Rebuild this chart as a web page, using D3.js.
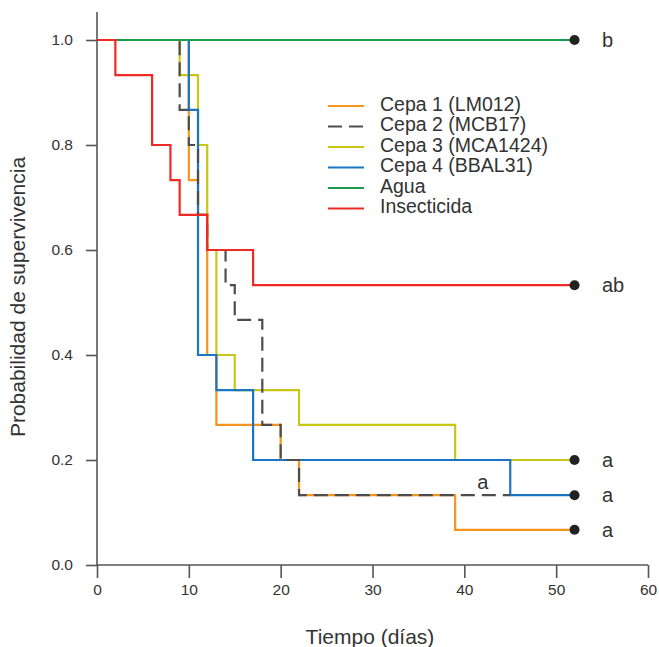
<!DOCTYPE html>
<html>
<head>
<meta charset="utf-8">
<script src="https://cdn.jsdelivr.net/npm/d3@7"></script>
<style>
  body { margin: 0; background: #fff; }
  text { font-family: "Liberation Sans", Arial, sans-serif; fill: #333; }
</style>
</head>
<body>
<div id="view"></div>
<script>
// Datos (tiempo en dias, probabilidad de supervivencia)
var series = ["Cepa 1 (LM012)", "Cepa 2 (MCB17)", "Cepa 3 (MCA1424)", "Cepa 4 (BBAL31)", "Agua", "Insecticida"];
var colores = ["#f7941d", "#4d4d4d", "#c9c617", "#1b75c4", "#1e9a4c", "#ee2a24"];

var cepa1Tiempos = [0, 10, 11, 12, 13, 20, 22, 39, 52];
var cepa1Valores = [1, 0.733, 0.667, 0.4, 0.267, 0.2, 0.133, 0.067, 0.067];
var cepa2Tiempos = [0, 9, 10, 11, 12, 14, 15, 18, 20, 22, 45];
var cepa2Valores = [1, 0.867, 0.8, 0.667, 0.6, 0.533, 0.467, 0.267, 0.2, 0.133, 0.133];
var cepa3Tiempos = [0, 9, 11, 12, 13, 15, 22, 39, 52];
var cepa3Valores = [1, 0.933, 0.8, 0.6, 0.4, 0.333, 0.267, 0.2, 0.2];
var cepa4Tiempos = [0, 10, 11, 13, 17, 45, 52];
var cepa4Valores = [1, 0.867, 0.4, 0.333, 0.2, 0.133, 0.133];
var aguaTiempos = [0, 52];
var aguaValores = [1, 1];
var insectTiempos = [0, 2, 6, 8, 9, 12, 17, 52];
var insectValores = [1, 0.933, 0.8, 0.733, 0.667, 0.6, 0.533, 0.533];

// marcas de significancia al final (dia 52)
var finalValores = [1, 0.533, 0.2, 0.133, 0.067];
var finalLetras = ["b", "ab", "a", "a", "a"];
var xTicks = [0, 10, 20, 30, 40, 50, 60];
var yTicks = [0, 0.2, 0.4, 0.6, 0.8, 1.0];

var svg = d3.select("#view").append("svg")
	.attr("width", 659)
	.attr("height", 647);

var x = d3.scaleLinear().domain([0, 60]).range([97, 648]);
var y = d3.scaleLinear().domain([0, 1]).range([565, 40]);

function pares(t, v){ return t.map(function(d, i){ return [d, v[i]]; }); }
var datos = [
	pares(cepa1Tiempos, cepa1Valores),
	pares(cepa2Tiempos, cepa2Valores),
	pares(cepa3Tiempos, cepa3Valores),
	pares(cepa4Tiempos, cepa4Valores),
	pares(aguaTiempos, aguaValores),
	pares(insectTiempos, insectValores)
];

// ejes
var ejeX = svg.append("g").attr("transform", "translate(0,565)")
	.call(d3.axisBottom(x).tickValues(xTicks).tickSize(13).tickSizeOuter(0).tickPadding(6));
var ejeY = svg.append("g").attr("transform", "translate(97,0)")
	.call(d3.axisLeft(y).tickValues(yTicks).tickSize(11).tickSizeOuter(0).tickPadding(13)
		.tickFormat(d3.format(".1f")));
[ejeX, ejeY].forEach(function(g){
	g.select(".domain").remove();
	g.selectAll("line").attr("stroke", "#555").attr("stroke-width", 1.6);
	g.selectAll("text").style("font-size", "15.5px").attr("fill", "#333");
});
svg.append("line").attr("x1", 97).attr("x2", 97).attr("y1", 12).attr("y2", 565)
	.attr("stroke", "#555").attr("stroke-width", 1.6);
svg.append("line").attr("x1", 97).attr("x2", 648).attr("y1", 565).attr("y2", 565)
	.attr("stroke", "#555").attr("stroke-width", 1.6);

// curvas de supervivencia (orden de dibujo como en la figura)
var linea = d3.line().x(function(d){ return x(d[0]); }).y(function(d){ return y(d[1]); })
	.curve(d3.curveStepAfter);
[0, 2, 3, 1, 4, 5].forEach(function(i){
	svg.append("path")
		.datum(datos[i])
		.attr("d", linea)
		.attr("fill", "none")
		.attr("stroke", colores[i])
		.attr("stroke-width", 2.2)
		.attr("stroke-dasharray", i == 1 ? "14,7" : null);
});

// puntos y letras
svg.selectAll(".punto").data(finalValores).enter().append("circle")
	.attr("cx", x(52)).attr("cy", function(d){ return y(d); })
	.attr("r", 5).attr("fill", "#222");
svg.selectAll(".letra").data(finalValores).enter().append("text")
	.attr("x", 602).attr("y", function(d){ return y(d); })
	.attr("dy", "0.35em")
	.style("font-size", "20px")
	.text(function(d, i){ return finalLetras[i]; });
svg.append("text").attr("x", x(42)).attr("y", y(0.133) - 13).attr("dy", "0.35em")
	.attr("text-anchor", "middle").style("font-size", "20px").text("a");

// leyenda
var ley = svg.append("g");
series.forEach(function(s, i){
	var yy = 104 + i * 20.5;
	ley.append("line").attr("x1", 328).attr("x2", 364).attr("y1", yy + 2).attr("y2", yy + 2)
		.attr("stroke", colores[i]).attr("stroke-width", 2.2)
		.attr("stroke-dasharray", i == 1 ? "14,7" : null);
	ley.append("text").attr("x", 380).attr("y", yy).attr("dy", "0.35em")
		.style("font-size", "19.5px").text(s);
});

// titulos de ejes
svg.append("text").attr("x", 370).attr("y", 637).attr("dy", "0.35em")
	.attr("text-anchor", "middle").style("font-size", "21px").text("Tiempo (días)");
svg.append("text").attr("transform", "translate(18,297) rotate(-90)").attr("dy", "0.35em")
	.attr("text-anchor", "middle").style("font-size", "21px").text("Probabilidad de supervivencia");
</script>
</body>
</html>
